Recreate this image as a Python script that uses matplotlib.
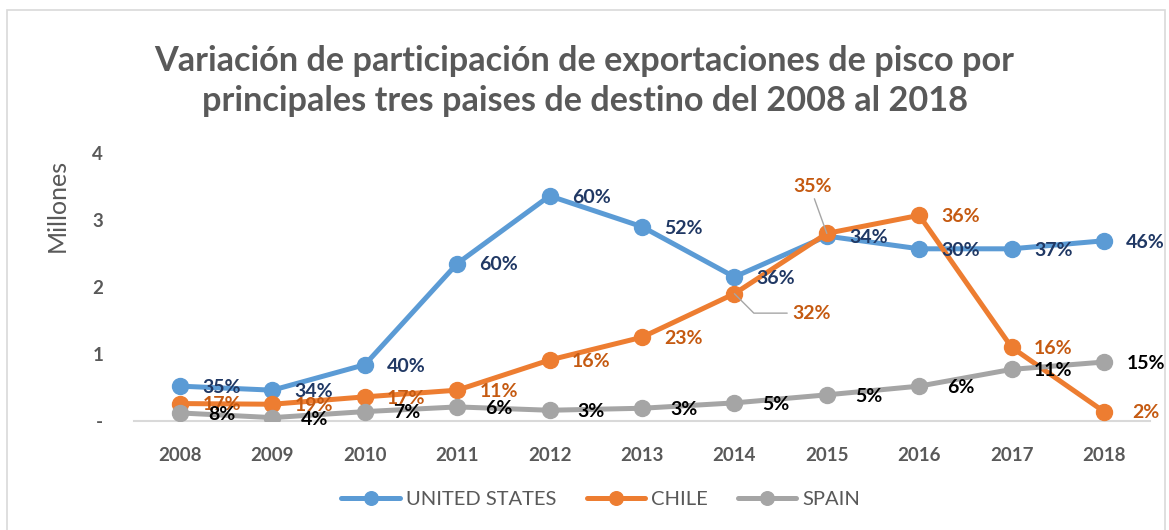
import matplotlib.pyplot as plt
import matplotlib.patches as mpatches

plt.rcParams['font.family'] = ['Lato', 'DejaVu Sans']

# datos (millones)
years = ['2008', '2009', '2010', '2011', '2012', '2013', '2014', '2015', '2016', '2017', '2018']
usa = [0.52, 0.46, 0.84, 2.35, 3.36, 2.90, 2.15, 2.76, 2.57, 2.57, 2.69]
chile = [0.26, 0.25, 0.36, 0.46, 0.91, 1.25, 1.90, 2.80, 3.07, 1.10, 0.14]
spain = [0.12, 0.05, 0.14, 0.21, 0.16, 0.19, 0.27, 0.39, 0.52, 0.77, 0.88]

usa_pct = ['35%', '34%', '40%', '60%', '60%', '52%', '36%', '34%', '30%', '37%', '46%']
chile_pct = ['17%', '19%', '17%', '11%', '16%', '23%', '32%', '35%', '36%', '16%', '2%']
spain_pct = ['8%', '4%', '7%', '6%', '3%', '3%', '5%', '5%', '6%', '11%', '15%']

names = ['UNITED STATES', 'CHILE', 'SPAIN']
colors = ['#5B9BD5', '#ED7D31', '#A5A5A5']
label_colors = ['#203864', '#C55A11', '#000000']
gris = '#595959'

fig = plt.figure(figsize=(11.69, 5.30), dpi=100)
ax = fig.add_axes([0.1145, 0.2057, 0.8694, 0.5056])

x = list(range(len(years)))
for serie, nombre, c in zip([usa, chile, spain], names, colors):
    ax.plot(x, serie, color=c, lw=3.6, marker='o', markersize=11.5,
            solid_capstyle='round', label=nombre, zorder=3)

# etiquetas de datos a la derecha
for serie, pct, lc, nombre in zip([usa, chile, spain], [usa_pct, chile_pct, spain_pct], label_colors, names):
    for i, (v, t) in enumerate(zip(serie, pct)):
        if nombre == 'CHILE' and i == 6:
            ax.annotate(t, xy=(i, v), xytext=(42, -14), textcoords='offset points',
                        ha='left', va='center', color=lc, fontsize=14, fontweight='bold',
                        arrowprops=dict(arrowstyle='-', color='#A6A6A6', lw=1,
                                        shrinkA=2, shrinkB=0, relpos=(0, 0.5),
                                        connectionstyle='angle,angleA=0,angleB=-45'),
                        zorder=5)
        elif nombre == 'CHILE' and i == 7:
            ax.annotate(t, xy=(i, v), xytext=(-10, 34), textcoords='offset points',
                        ha='center', va='center', color=lc, fontsize=14, fontweight='bold',
                        arrowprops=dict(arrowstyle='-', color='#A6A6A6', lw=1,
                                        shrinkA=1, shrinkB=0, relpos=(0.5, 0)),
                        zorder=5)
        else:
            ax.annotate(t, xy=(i, v), xytext=(30, -1), textcoords='offset points',
                        ha='center', va='center', color=lc, fontsize=14,
                        fontweight='bold', zorder=5)

ax.set_xlim(-0.5, len(years) - 0.5)
ax.set_ylim(0, 4)
ax.set_xticks(x)
ax.set_xticklabels(years)
ax.set_yticks([0, 1, 2, 3, 4])
ax.set_yticklabels(['-', '1', '2', '3', '4'])
for s in ['top', 'right', 'left']:
    ax.spines[s].set_visible(False)
ax.spines['bottom'].set_color('#D9D9D9')
ax.spines['bottom'].set_linewidth(1.5)
ax.tick_params(axis='both', length=0, colors=gris, labelsize=13.5)
ax.tick_params(axis='x', pad=19)
ax.tick_params(axis='y', pad=22)
for lab in ax.get_xticklabels() + ax.get_yticklabels():
    lab.set_fontweight('bold')

fig.text(0.049, 0.613, 'Millones', rotation=90, ha='center', va='center',
         color=gris, fontsize=18)

fig.text(0.5, 0.847, 'Variación de participación de exportaciones de pisco por\n'
         'principales tres paises de destino del 2008 al 2018',
         ha='center', va='center', fontsize=24.7, fontweight='bold', color=gris,
         linespacing=1.3)

fig.legend(loc='center', bbox_to_anchor=(0.514, 0.057), ncol=3, frameon=False,
           fontsize=14.5, handlelength=2.9, handletextpad=0.3, columnspacing=1.5,
           labelcolor=gris, markerscale=0.85)

# borde
fig.patches.append(mpatches.Rectangle((7 / 1169, -0.05), 1158 / 1169, 1.05 - 10 / 530,
                                      transform=fig.transFigure, fill=False,
                                      edgecolor='#D9D9D9', lw=1.2))

fig.savefig('out.png', dpi=100)
